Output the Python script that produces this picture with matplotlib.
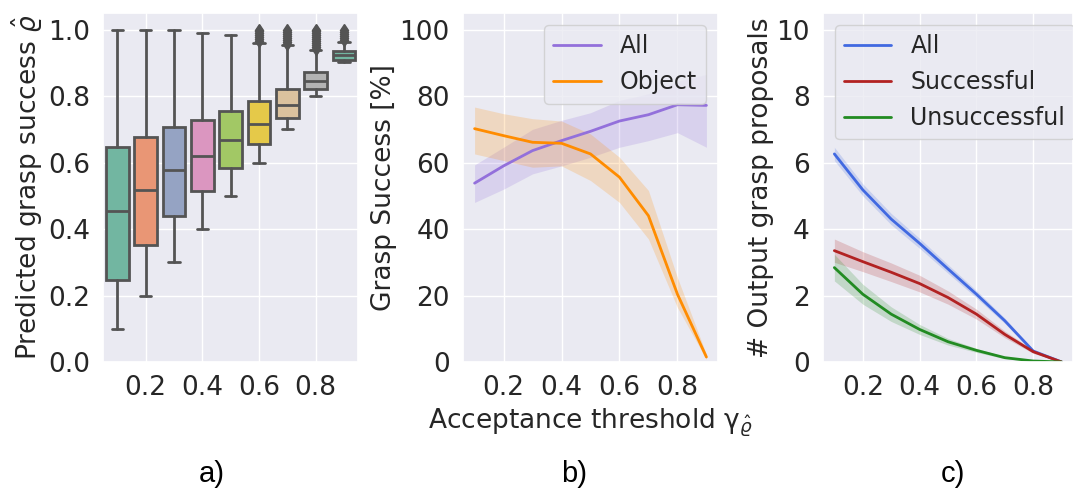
import numpy as np
import matplotlib
matplotlib.use("Agg")
import matplotlib.pyplot as plt
import seaborn as sns

# --- data ---
thresholds = [0.1, 0.2, 0.3, 0.4, 0.5, 0.6, 0.7, 0.8, 0.9]
tick_vals = [0.2, 0.4, 0.6, 0.8]

# a) box statistics of predicted grasp success per threshold
box_q1 = [0.247, 0.353, 0.439, 0.514, 0.583, 0.656, 0.734, 0.820, 0.910]
box_med = [0.454, 0.517, 0.578, 0.620, 0.668, 0.715, 0.772, 0.845, 0.925]
box_q3 = [0.647, 0.676, 0.706, 0.729, 0.755, 0.786, 0.822, 0.871, 0.936]
box_lo = [0.100, 0.200, 0.300, 0.400, 0.500, 0.600, 0.700, 0.800, 0.903]
box_hi = [1.000, 1.000, 0.998, 0.991, 0.984, 0.960, 0.953, 0.938, 0.963]
box_fliers = [
    [], [], [], [], [],
    [0.966, 0.972, 0.978, 0.984, 0.990, 0.995, 1.000],
    [0.958, 0.964, 0.970, 0.976, 0.982, 0.988, 0.994, 1.000],
    [0.943, 0.949, 0.955, 0.961, 0.967, 0.973, 0.979, 0.985, 0.991, 0.997, 1.000],
    [0.970, 0.976, 0.982, 0.988, 0.994, 1.000],
]

# b) grasp success [%]
succ_all = [53.8, 59.0, 63.6, 66.6, 69.4, 72.5, 74.4, 77.4, 77.2]
succ_all_lo = [48.0, 52.0, 56.6, 59.0, 61.6, 64.6, 66.6, 69.0, 64.6]
succ_all_hi = [59.3, 64.6, 70.0, 72.7, 75.0, 78.7, 80.7, 84.5, 86.5]
succ_obj = [70.2, 68.1, 66.1, 65.8, 62.6, 55.6, 44.0, 20.4, 1.5]
succ_obj_lo = [62.6, 60.6, 58.6, 59.0, 54.6, 48.0, 37.0, 16.4, 0.8]
succ_obj_hi = [76.7, 74.7, 73.2, 72.5, 68.6, 61.6, 51.6, 25.4, 2.3]

# c) number of output grasp proposals
n_all = [6.26, 5.18, 4.30, 3.57, 2.80, 2.04, 1.24, 0.33, 0.0]
n_all_err = [0.20, 0.18, 0.17, 0.15, 0.13, 0.11, 0.08, 0.04, 0.0]
n_succ = [3.35, 3.02, 2.70, 2.36, 1.94, 1.44, 0.83, 0.31, 0.0]
n_succ_err = [0.35, 0.30, 0.28, 0.25, 0.20, 0.15, 0.10, 0.05, 0.0]
n_fail = [2.84, 2.04, 1.44, 0.98, 0.61, 0.35, 0.13, 0.03, 0.0]
n_fail_err = [0.40, 0.30, 0.22, 0.15, 0.10, 0.06, 0.03, 0.01, 0.0]

sns.set_theme(style="darkgrid")
plt.rcParams["font.family"] = ["DejaVu Sans"]
FS = 19
LEG_FS = 17
LW = 2.0

W, H = 1073, 493
fig = plt.figure(figsize=(W / 100, H / 100), dpi=100)

def px_axes(left, right, top, bottom):
    return fig.add_axes([left / W, 1 - bottom / H, (right - left) / W, (bottom - top) / H])

# ---------- a) boxplot ----------
ax1 = px_axes(103, 358, 13, 362)
pal = sns.color_palette("Set2", 8)
colors = [sns.desaturate(pal[i % 8], 0.75) for i in range(len(thresholds))]
stats = []
for i in range(len(thresholds)):
    stats.append(dict(med=box_med[i], q1=box_q1[i], q3=box_q3[i],
                      whislo=box_lo[i], whishi=box_hi[i], fliers=box_fliers[i]))
gray = "0.33"
bp = ax1.bxp(stats, positions=range(len(thresholds)), widths=0.8, patch_artist=True,
             boxprops=dict(edgecolor=gray, linewidth=LW),
             medianprops=dict(color=gray, linewidth=LW),
             whiskerprops=dict(color=gray, linewidth=LW),
             capprops=dict(color=gray, linewidth=LW),
             flierprops=dict(marker="d", markersize=6, markerfacecolor=gray,
                             markeredgecolor=gray))
for patch, c in zip(bp["boxes"], colors):
    patch.set_facecolor(c)
for cap in bp["caps"]:
    x0, x1 = cap.get_xdata()
    xc = (x0 + x1) / 2
    cap.set_xdata([xc - 0.2, xc + 0.2])
ax1.set_xlim(-0.5, len(thresholds) - 0.5)
ax1.set_ylim(0, 1.05)
ax1.set_xticks([thresholds.index(t) for t in tick_vals])
ax1.set_xticklabels([f"{t:.1f}" for t in tick_vals])
ax1.set_yticks([0, 0.2, 0.4, 0.6, 0.8, 1.0])
ax1.set_yticklabels(["0.0", "0.2", "0.4", "0.6", "0.8", "1.0"])
ax1.set_ylabel(r"Predicted grasp success $\hat{\varrho}$", fontsize=FS, labelpad=2)

# ---------- b) grasp success ----------
ax2 = px_axes(463, 718, 13, 362)
ax2.fill_between(thresholds, succ_all_lo, succ_all_hi, color="mediumpurple", alpha=0.2, lw=0)
ax2.plot(thresholds, succ_all, color="mediumpurple", lw=LW, label="All")
ax2.fill_between(thresholds, succ_obj_lo, succ_obj_hi, color="darkorange", alpha=0.2, lw=0)
ax2.plot(thresholds, succ_obj, color="darkorange", lw=LW, label="Object")
ax2.set_ylim(0, 105)
ax2.set_yticks([0, 20, 40, 60, 80, 100])
ax2.set_xticks(tick_vals)
ax2.set_ylabel("Grasp Success [%]", fontsize=FS, labelpad=2)
ax2.set_xlabel(r"Acceptance threshold γ$_{\hat{\varrho}}$", fontsize=FS, labelpad=4)
ax2.legend(loc="upper right", fontsize=LEG_FS)

# ---------- c) number of proposals ----------
ax3 = px_axes(823, 1073, 13, 362)
for y, e, c, lab in [(n_all, n_all_err, "royalblue", "All"),
                     (n_succ, n_succ_err, "firebrick", "Successful"),
                     (n_fail, n_fail_err, "forestgreen", "Unsuccessful")]:
    y = np.array(y)
    e = np.array(e)
    ax3.fill_between(thresholds, y - e, y + e, color=c, alpha=0.2, lw=0)
    ax3.plot(thresholds, y, color=c, lw=LW, label=lab)
ax3.set_ylim(0, 10.5)
ax3.set_yticks([0, 2, 4, 6, 8, 10])
ax3.set_xticks(tick_vals)
ax3.set_ylabel("# Output grasp proposals", fontsize=FS, labelpad=2)
ax3.legend(loc="upper left", fontsize=LEG_FS)

for ax in (ax1, ax2, ax3):
    ax.tick_params(labelsize=FS)

for x, s in [(212, "a)"), (574, "b)"), (953, "c)")]:
    fig.text(x / W, 1 - 474 / H, s, ha="center", va="center",
             fontsize=21, family="Liberation Sans", color="black")

fig.savefig("out.png", dpi=100)
